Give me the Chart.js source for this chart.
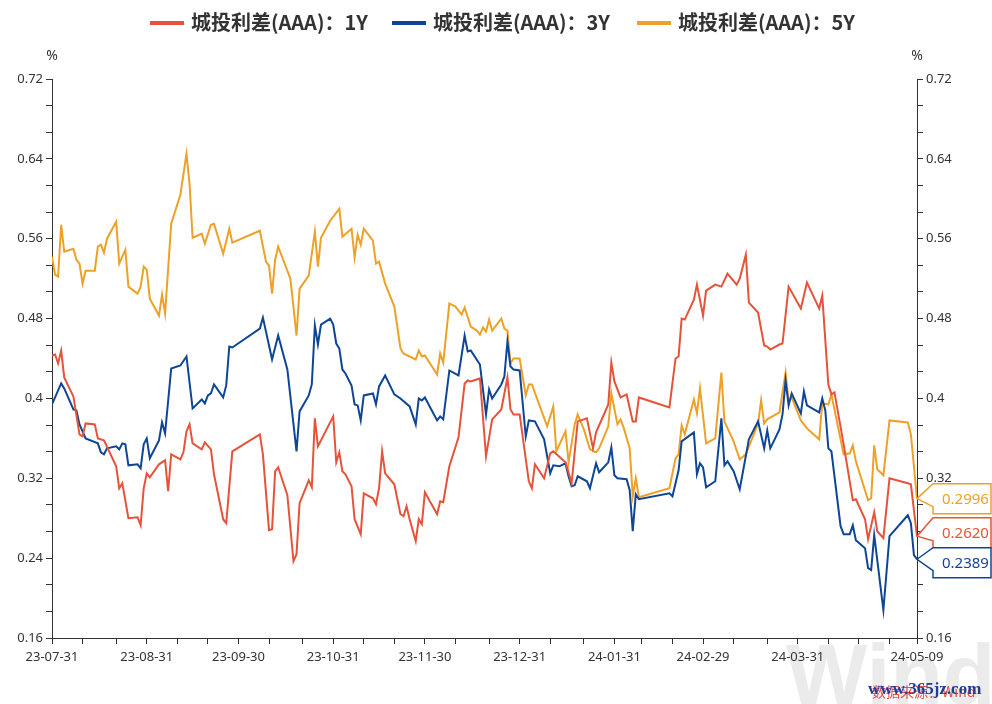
<!DOCTYPE html>
<html>
<head>
<meta charset="utf-8">
<script src="https://cdn.jsdelivr.net/npm/chart.js@4.4.1/dist/chart.umd.min.js"></script>
<style>
  html, body { margin: 0; background: #fff; }
  #wrap { width: 992px; height: 704px; }
</style>
</head>
<body>
<div id="wrap"><canvas id="chart" width="992" height="704"></canvas></div>
<script>
/* ───────────── DATA ───────────── */
const seriesNames = ["城投利差(AAA)：1Y", "城投利差(AAA)：3Y", "城投利差(AAA)：5Y"];

const dates1Y = [
  "23-07-31","23-08-01","23-08-02","23-08-03","23-08-04","23-08-07","23-08-09","23-08-10","23-08-11","23-08-14","23-08-15","23-08-17","23-08-21","23-08-22","23-08-23","23-08-25","23-08-28","23-08-29","23-08-30","23-08-31",
  "23-09-01","23-09-04","23-09-06","23-09-07","23-09-08","23-09-11","23-09-12","23-09-13","23-09-14","23-09-15","23-09-18","23-09-19","23-09-21","23-09-22","23-09-25","23-09-26","23-09-28",
  "23-10-07","23-10-08","23-10-10","23-10-11","23-10-12","23-10-13","23-10-16","23-10-18","23-10-19","23-10-20","23-10-23","23-10-24","23-10-25","23-10-26","23-10-31",
  "23-11-01","23-11-02","23-11-03","23-11-04","23-11-06","23-11-07","23-11-09","23-11-10","23-11-13","23-11-14","23-11-15","23-11-16","23-11-17","23-11-20","23-11-22","23-11-23","23-11-24","23-11-25","23-11-27","23-11-28","23-11-29","23-11-30",
  "23-12-04","23-12-05","23-12-06","23-12-08","23-12-11","23-12-13","23-12-14","23-12-15","23-12-18","23-12-20","23-12-22","23-12-25","23-12-27","23-12-28","23-12-29","23-12-31",
  "24-01-03","24-01-04","24-01-05","24-01-08","24-01-10","24-01-11","24-01-15","24-01-16","24-01-17","24-01-19","24-01-22","24-01-24","24-01-25","24-01-29","24-01-30","24-01-31",
  "24-02-02","24-02-04","24-02-06","24-02-07","24-02-08","24-02-18","24-02-20","24-02-21","24-02-22","24-02-23","24-02-26","24-02-27","24-02-29",
  "24-03-01","24-03-04","24-03-06","24-03-08","24-03-11","24-03-12","24-03-14","24-03-15","24-03-18","24-03-20","24-03-21","24-03-22","24-03-25","24-03-26","24-03-28",
  "24-04-01","24-04-03","24-04-07","24-04-08","24-04-10","24-04-11","24-04-12","24-04-15","24-04-18","24-04-19","24-04-22","24-04-23","24-04-25","24-04-26","24-04-28","24-04-30",
  "24-05-06","24-05-07","24-05-09"
];
const values1Y = [
  0.443,0.444,0.435,0.448,0.421,0.402,0.364,0.362,0.375,0.374,0.360,0.358,0.332,0.310,0.315,0.280,0.281,0.273,0.310,0.325,
  0.321,0.334,0.338,0.307,0.344,0.339,0.346,0.367,0.374,0.355,0.349,0.356,0.349,0.324,0.279,0.275,0.347,
  0.364,0.344,0.268,0.269,0.327,0.331,0.303,0.237,0.244,0.295,0.318,0.311,0.380,0.352,0.382,
  0.336,0.346,0.327,0.324,0.312,0.279,0.264,0.305,0.300,0.294,0.310,0.347,0.325,0.314,0.284,0.282,0.292,0.279,0.257,0.279,0.274,0.306,
  0.284,0.297,0.296,0.332,0.361,0.415,0.418,0.417,0.420,0.342,0.379,0.389,0.421,0.389,0.384,0.384,
  0.317,0.310,0.334,0.320,0.345,0.347,0.336,0.326,0.315,0.377,0.380,0.350,0.366,0.394,0.436,0.417,
  0.401,0.404,0.377,0.377,0.401,0.391,0.440,0.442,0.480,0.479,0.499,0.514,0.483,
  0.508,0.514,0.512,0.525,0.514,0.520,0.544,0.496,0.486,0.453,0.452,0.449,0.454,0.455,0.512,
  0.490,0.516,0.490,0.503,0.414,0.404,0.406,0.354,0.298,0.299,0.279,0.259,0.286,0.267,0.260,0.320,
  0.315,0.314,0.2620
];

const dates3Y = [
  "23-07-31","23-08-03","23-08-04","23-08-07","23-08-08","23-08-09","23-08-11","23-08-15","23-08-16","23-08-17","23-08-18","23-08-21","23-08-22","23-08-23","23-08-24","23-08-25","23-08-28","23-08-29","23-08-30","23-08-31",
  "23-09-01","23-09-04","23-09-05","23-09-06","23-09-08","23-09-11","23-09-13","23-09-15","23-09-18","23-09-19","23-09-20","23-09-21","23-09-22","23-09-25","23-09-26","23-09-27","23-09-28",
  "23-10-07","23-10-08","23-10-11","23-10-13","23-10-16","23-10-19","23-10-20","23-10-23","23-10-24","23-10-25","23-10-26","23-10-27","23-10-30","23-10-31",
  "23-11-01","23-11-02","23-11-03","23-11-04","23-11-06","23-11-07","23-11-08","23-11-09","23-11-10","23-11-13","23-11-14","23-11-15","23-11-17","23-11-20","23-11-22","23-11-25","23-11-27","23-11-28","23-11-29","23-11-30",
  "23-12-04","23-12-05","23-12-06","23-12-08","23-12-11","23-12-13","23-12-14","23-12-15","23-12-18","23-12-20","23-12-21","23-12-22","23-12-25","23-12-26","23-12-27","23-12-28","23-12-29","23-12-31",
  "24-01-02","24-01-03","24-01-05","24-01-08","24-01-10","24-01-11","24-01-13","24-01-15","24-01-16","24-01-17","24-01-18","24-01-19","24-01-22","24-01-23","24-01-25","24-01-26","24-01-29","24-01-30","24-01-31",
  "24-02-01","24-02-04","24-02-05","24-02-06","24-02-07","24-02-08","24-02-18","24-02-19","24-02-21","24-02-22","24-02-26","24-02-27","24-02-28","24-02-29",
  "24-03-01","24-03-04","24-03-06","24-03-07","24-03-08","24-03-10","24-03-12","24-03-15","24-03-18","24-03-20","24-03-21","24-03-22","24-03-25","24-03-26","24-03-27","24-03-28","24-03-29",
  "24-04-01","24-04-02","24-04-03","24-04-07","24-04-08","24-04-09","24-04-10","24-04-11","24-04-14","24-04-15","24-04-17","24-04-18","24-04-19","24-04-22","24-04-23","24-04-24","24-04-25","24-04-28","24-04-30",
  "24-05-06","24-05-07","24-05-08","24-05-09"
];
const values3Y = [
  0.394,0.415,0.410,0.389,0.388,0.374,0.360,0.355,0.346,0.344,0.350,0.352,0.349,0.355,0.354,0.333,0.334,0.330,0.354,0.360,
  0.340,0.358,0.376,0.365,0.430,0.433,0.442,0.390,0.399,0.395,0.403,0.405,0.414,0.401,0.413,0.452,0.451,
  0.470,0.481,0.439,0.463,0.429,0.347,0.387,0.403,0.414,0.473,0.454,0.474,0.480,0.474,
  0.455,0.450,0.429,0.425,0.413,0.394,0.393,0.378,0.403,0.405,0.394,0.412,0.423,0.404,0.400,0.392,0.374,0.400,0.398,0.401,
  0.378,0.382,0.379,0.428,0.423,0.463,0.447,0.448,0.434,0.384,0.409,0.400,0.414,0.422,0.457,0.432,0.429,0.428,
  0.362,0.378,0.377,0.359,0.325,0.333,0.332,0.335,0.322,0.312,0.313,0.322,0.317,0.310,0.335,0.326,0.336,0.351,0.323,
  0.320,0.319,0.308,0.267,0.304,0.299,0.305,0.302,0.328,0.357,0.366,0.324,0.335,0.331,
  0.311,0.317,0.380,0.333,0.337,0.327,0.309,0.359,0.377,0.350,0.368,0.350,0.369,0.384,0.418,0.393,0.405,
  0.385,0.407,0.393,0.386,0.400,0.388,0.350,0.347,0.272,0.264,0.264,0.273,0.258,0.250,0.230,0.228,0.263,0.188,0.262,
  0.283,0.275,0.243,0.2389
];

const dates5Y = [
  "23-07-31","23-08-01","23-08-02","23-08-03","23-08-04","23-08-07","23-08-08","23-08-09","23-08-10","23-08-11","23-08-14","23-08-15","23-08-16","23-08-17","23-08-18","23-08-21","23-08-22","23-08-24","23-08-25","23-08-28","23-08-29","23-08-30","23-08-31",
  "23-09-01","23-09-04","23-09-05","23-09-06","23-09-08","23-09-11","23-09-13","23-09-14","23-09-15","23-09-18","23-09-19","23-09-21","23-09-22","23-09-25","23-09-27","23-09-28",
  "23-10-07","23-10-09","23-10-10","23-10-11","23-10-12","23-10-13","23-10-17","23-10-19","23-10-20","23-10-23","23-10-25","23-10-26","23-10-27","23-10-30",
  "23-11-02","23-11-03","23-11-06","23-11-07","23-11-08","23-11-09","23-11-10","23-11-13","23-11-14","23-11-15","23-11-17","23-11-20","23-11-22","23-11-23","23-11-27","23-11-28","23-11-29","23-11-30",
  "23-12-04","23-12-05","23-12-06","23-12-08","23-12-10","23-12-12","23-12-13","23-12-15","23-12-17","23-12-18","23-12-19","23-12-20","23-12-21","23-12-22","23-12-25","23-12-26","23-12-27","23-12-28","23-12-29","23-12-31",
  "24-01-02","24-01-03","24-01-04","24-01-09","24-01-11","24-01-12","24-01-15","24-01-16","24-01-18","24-01-19","24-01-21","24-01-23","24-01-25","24-01-26","24-01-29","24-01-30",
  "24-02-01","24-02-02","24-02-03","24-02-05","24-02-06","24-02-07","24-02-08","24-02-18","24-02-20","24-02-21","24-02-22","24-02-23","24-02-26","24-02-27","24-02-28",
  "24-03-01","24-03-04","24-03-06","24-03-07","24-03-10","24-03-12","24-03-14","24-03-18","24-03-19","24-03-20","24-03-21","24-03-25","24-03-27","24-03-28","24-03-29",
  "24-04-01","24-04-03","24-04-07","24-04-08","24-04-10","24-04-11","24-04-15","24-04-17","24-04-18","24-04-19","24-04-23","24-04-24","24-04-25","24-04-26","24-04-28","24-04-30",
  "24-05-06","24-05-07","24-05-09"
];
const values5Y = [
  0.542,0.524,0.522,0.574,0.547,0.550,0.539,0.535,0.515,0.528,0.528,0.552,0.554,0.546,0.560,0.577,0.535,0.549,0.512,0.505,0.512,0.532,0.529,
  0.500,0.483,0.504,0.485,0.575,0.604,0.645,0.615,0.561,0.565,0.555,0.574,0.575,0.545,0.570,0.556,
  0.568,0.537,0.533,0.505,0.539,0.552,0.520,0.463,0.510,0.523,0.567,0.532,0.561,0.578,
  0.590,0.562,0.570,0.541,0.564,0.554,0.570,0.558,0.535,0.537,0.515,0.492,0.450,0.445,0.439,0.448,0.442,0.443,
  0.424,0.445,0.436,0.495,0.492,0.484,0.491,0.472,0.468,0.464,0.471,0.467,0.479,0.468,0.480,0.470,0.468,0.435,0.440,0.440,
  0.403,0.414,0.414,0.372,0.392,0.347,0.367,0.336,0.374,0.384,0.369,0.349,0.346,0.350,0.372,0.405,
  0.374,0.379,0.371,0.350,0.302,0.320,0.301,0.310,0.340,0.344,0.373,0.364,0.399,0.385,0.410,
  0.355,0.360,0.426,0.377,0.357,0.339,0.344,0.375,0.398,0.375,0.379,0.386,0.426,0.397,0.401,
  0.378,0.370,0.359,0.395,0.394,0.404,0.344,0.345,0.353,0.337,0.298,0.300,0.353,0.329,0.323,0.378,
  0.376,0.364,0.2996
];

// x-axis ticks: labelled dates and the small ticks between them
const xLabelDates = ["23-07-31","23-08-31","23-09-30","23-10-31","23-11-30","23-12-31","24-01-31","24-02-29","24-03-31","24-05-09"];
const xMinorDates = ["23-08-10","23-08-21","23-09-10","23-09-20","23-10-10","23-10-21","23-11-10","23-11-20","23-12-10","23-12-21",
                     "24-01-10","24-01-21","24-02-09","24-02-19","24-03-10","24-03-21","24-04-10","24-04-20","24-04-30"];
// y-axis labelled ticks (two unlabelled ticks sit between each pair)
const yTickLabels = [0.16, 0.24, 0.32, 0.40, 0.48, 0.56, 0.64, 0.72];

const colors = ["#E5533A", "#0E4595", "#EDA126"];

/* ───────────── HELPERS ───────────── */
const START = Date.UTC(2023, 6, 31);
const dayIndex = s => {
  const [yy, mm, dd] = s.split("-").map(Number);
  return Math.round((Date.UTC(2000 + yy, mm - 1, dd) - START) / 86400000);
};
const toPoints = (dates, values) => dates.map((d, i) => ({ x: dayIndex(d), y: values[i] }));

const xLabelMap = new Map(xLabelDates.map(d => [dayIndex(d), d]));
const xTicks = [...xLabelDates, ...xMinorDates].map(dayIndex).sort((a, b) => a - b);
const yTicks = [];
yTickLabels.forEach((v, i) => {
  yTicks.push(v);
  if (i < yTickLabels.length - 1) {
    const step = (yTickLabels[i + 1] - v) / 3;
    yTicks.push(v + step, v + 2 * step);
  }
});
const yLabel = v => {
  const hit = yTickLabels.find(t => Math.abs(t - v) < 1e-6);
  return hit === undefined ? "" : String(+hit.toFixed(2));
};

const axisColor = "#333";
const tickFont = { family: "'Noto Sans', 'DejaVu Sans', sans-serif", size: 13 };

/* ───────────── PLUGINS ───────────── */
const backdrop = {
  id: "backdrop",
  beforeDraw(chart) {
    const ctx = chart.ctx;
    ctx.save();
    ctx.fillStyle = "#fff";
    ctx.fillRect(0, 0, chart.width, chart.height);
    // faint "Wind" watermark bottom-right
    ctx.fillStyle = "#ebebeb";
    ctx.font = "bold 86px 'Liberation Sans', Arial, sans-serif";
    ctx.textBaseline = "alphabetic";
    ctx.textAlign = "left";
    ctx.fillText("Wind", 786, 704);
    ctx.restore();
  }
};

const legendAndUnits = {
  id: "legendAndUnits",
  afterDraw(chart) {
    const ctx = chart.ctx;
    ctx.save();
    // legend
    const starts = [150, 392, 637];
    ctx.font = "bold 20px 'Noto Sans CJK SC', sans-serif";
    ctx.textBaseline = "middle";
    ctx.textAlign = "left";
    seriesNames.forEach((name, i) => {
      ctx.fillStyle = colors[i];
      ctx.fillRect(starts[i], 21, 34, 4);
      ctx.fillStyle = "#333";
      ctx.fillText(name, starts[i] + 41, 22);
    });
    // "%" above both y axes
    ctx.font = "14px 'Noto Sans', sans-serif";
    ctx.fillStyle = "#333";
    ctx.textAlign = "center";
    ctx.fillText("%", chart.scales.y.right, 56);
    ctx.fillText("%", chart.scales.y2.left, 56);
    // source marks bottom-right
    ctx.textAlign = "left";
    ctx.font = "14px 'Noto Sans CJK SC', sans-serif";
    ctx.fillStyle = "#d9534f";
    ctx.fillText("数据来源：Wind", 872, 692);
    ctx.font = "bold 17px 'Liberation Serif', serif";
    ctx.fillStyle = "#1d3f96";
    ctx.fillText("www.365jz.com", 868, 690);
    ctx.restore();
  }
};

const endLabels = {
  id: "endLabels",
  afterDatasetsDraw(chart) {
    const ctx = chart.ctx;
    const H = 30;
    const items = chart.data.datasets.map((ds, i) => {
      const meta = chart.getDatasetMeta(i);
      const pt = meta.data[meta.data.length - 1];
      const last = ds.data[ds.data.length - 1].y;
      return { px: pt.x, py: pt.y, cy: pt.y, color: ds.borderColor, text: last.toFixed(4) };
    }).sort((a, b) => a.py - b.py);
    for (let k = 0; k < 30; k++) {
      for (let i = 1; i < items.length; i++) {
        const gap = items[i].cy - items[i - 1].cy;
        if (gap < H) {
          const d = (H - gap) / 2;
          items[i - 1].cy -= d;
          items[i].cy += d;
        }
      }
    }
    const x0 = chart.chartArea.right + 16;
    const x1 = chart.width - 1;
    items.forEach(it => {
      const top = it.cy - H / 2, bot = it.cy + H / 2;
      ctx.save();
      ctx.beginPath();
      ctx.moveTo(it.px, it.py);
      ctx.lineTo(x0, top);
      ctx.lineTo(x1, top);
      ctx.lineTo(x1, bot);
      ctx.lineTo(x0, bot);
      ctx.lineTo(x0, it.cy + 8);
      ctx.closePath();
      ctx.fillStyle = "#fff";
      ctx.fill();
      ctx.lineWidth = 1.5;
      ctx.strokeStyle = it.color;
      ctx.stroke();
      ctx.fillStyle = it.color;
      ctx.font = "15px 'Noto Sans', sans-serif";
      ctx.textBaseline = "middle";
      ctx.textAlign = "left";
      ctx.fillText(it.text, x0 + 9, it.cy + 1);
      ctx.restore();
    });
  }
};

/* ───────────── CHART ───────────── */
const makeDataset = (i, dates, values) => ({
  label: seriesNames[i],
  data: toPoints(dates, values),
  borderColor: colors[i],
  backgroundColor: colors[i],
  borderWidth: 2,
  pointRadius: 0,
  tension: 0,
  fill: false,
  yAxisID: "y"
});

const yAxis = (position, width) => ({
  type: "linear",
  position,
  min: yTickLabels[0],
  max: yTickLabels[yTickLabels.length - 1],
  afterBuildTicks: axis => { axis.ticks = yTicks.map(v => ({ value: v })); },
  afterFit: axis => { axis.width = width; },
  grid: { drawOnChartArea: false, drawTicks: true, tickLength: 6, color: axisColor },
  border: { display: true, color: axisColor, width: 1 },
  ticks: { autoSkip: false, padding: 3, color: axisColor, font: tickFont, callback: v => yLabel(v) }
});

new Chart(document.getElementById("chart"), {
  type: "line",
  data: {
    datasets: [
      makeDataset(0, dates1Y, values1Y),
      makeDataset(1, dates3Y, values3Y),
      makeDataset(2, dates5Y, values5Y)
    ]
  },
  options: {
    responsive: false,
    animation: false,
    devicePixelRatio: 1,
    layout: { padding: { top: 79, left: 0, right: 0, bottom: 0 } },
    plugins: { legend: { display: false }, tooltip: { enabled: false } },
    scales: {
      x: {
        type: "linear",
        min: dayIndex(xLabelDates[0]),
        max: dayIndex(xLabelDates[xLabelDates.length - 1]),
        afterBuildTicks: axis => { axis.ticks = xTicks.map(v => ({ value: v })); },
        afterFit: axis => { axis.height = 66; },
        grid: { drawOnChartArea: false, drawTicks: true, tickLength: 6, color: axisColor },
        border: { display: true, color: axisColor, width: 1 },
        ticks: {
          autoSkip: false, maxRotation: 0, padding: 5, color: axisColor, font: tickFont,
          callback: v => xLabelMap.get(v) || ""
        }
      },
      y: yAxis("left", 52),
      y2: yAxis("right", 75)
    }
  },
  plugins: [backdrop, endLabels, legendAndUnits]
});
</script>
</body>
</html>
